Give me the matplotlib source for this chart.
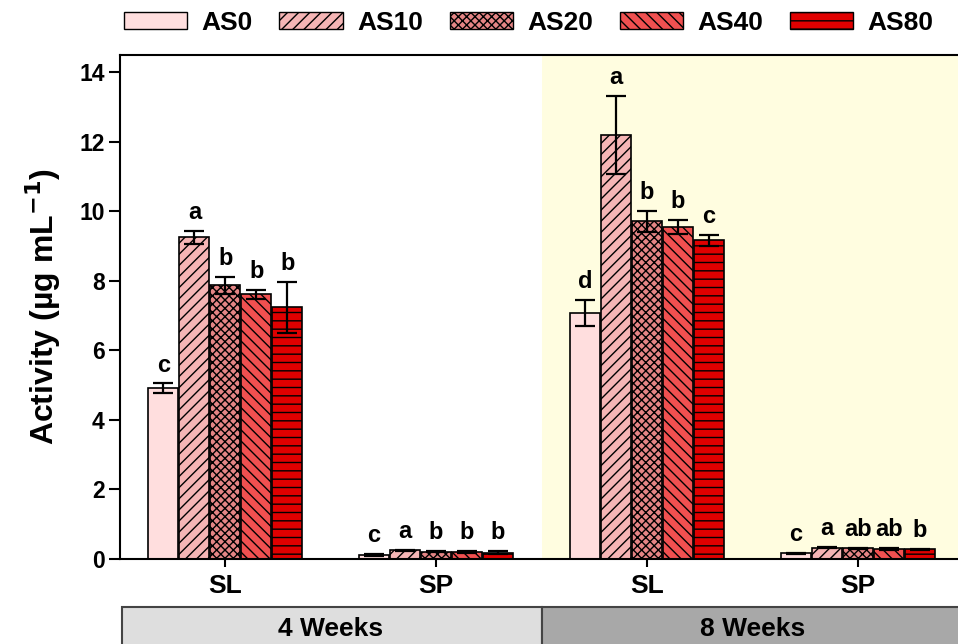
import matplotlib
matplotlib.use("Agg")
import matplotlib.pyplot as plt
from matplotlib.patches import Rectangle, Patch
import numpy as np

plt.rcParams['font.family'] = ['Liberation Sans', 'DejaVu Sans']
plt.rcParams['font.weight'] = 'bold'
plt.rcParams['hatch.linewidth'] = 1.0
plt.rcParams['mathtext.default'] = 'bf'

groups = ["SL", "SP", "SL", "SP"]
periods = ["4 Weeks", "8 Weeks"]
series = ["AS0", "AS10", "AS20", "AS40", "AS80"]

# values per series across the 4 groups (4W SL, 4W SP, 8W SL, 8W SP)
AS0 = [4.91, 0.12, 7.07, 0.16]
AS10 = [9.25, 0.25, 12.21, 0.33]
AS20 = [7.87, 0.21, 9.71, 0.31]
AS40 = [7.61, 0.20, 9.54, 0.29]
AS80 = [7.24, 0.18, 9.17, 0.28]

AS0_err = [0.14, 0.02, 0.37, 0.02]
AS10_err = [0.18, 0.02, 1.12, 0.02]
AS20_err = [0.25, 0.02, 0.30, 0.02]
AS40_err = [0.12, 0.02, 0.20, 0.02]
AS80_err = [0.73, 0.04, 0.16, 0.02]

AS0_let = ["c", "c", "d", "c"]
AS10_let = ["a", "a", "a", "a"]
AS20_let = ["b", "b", "b", "ab"]
AS40_let = ["b", "b", "b", "ab"]
AS80_let = ["b", "b", "c", "b"]

values = [AS0, AS10, AS20, AS40, AS80]
errors = [AS0_err, AS10_err, AS20_err, AS40_err, AS80_err]
letters = [AS0_let, AS10_let, AS20_let, AS40_let, AS80_let]

colors = ["#FFDEDE", "#F5B5B5", "#E58585", "#F05050", "#E00000"]
hatches = [None, "///", "xxxx", "\\\\\\", "--"]

W, H = 958, 644
fig = plt.figure(figsize=(W / 100, H / 100), dpi=100)
left, right_px, top_px, bot_px = 120, 963, 55, 559
ax = fig.add_axes([left / W, 1 - bot_px / H, (right_px - left) / W, (bot_px - top_px) / H])

x = np.arange(len(groups))
bw = 0.142
step = 0.147

ax.axvspan(1.5, 3.6, color="#FFFDE0", zorder=0, lw=0)

for i, s in enumerate(series):
    pos = x + (i - 2) * step
    ax.bar(pos, values[i], width=bw, color=colors[i], edgecolor="black",
           linewidth=1.2, hatch=hatches[i], zorder=2)
    ax.errorbar(pos, values[i], yerr=errors[i], fmt="none", ecolor="black",
                elinewidth=1.6, capsize=7.5, capthick=1.6, zorder=3)
    for j in range(len(groups)):
        ax.text(pos[j], values[i][j] + errors[i][j] + 0.2, letters[i][j],
                ha="center", va="bottom", fontsize=17, fontweight="bold")

ax.set_xlim(-0.5, 3.5)
ax.set_ylim(0, 14.5)
ax.set_yticks(np.arange(0, 15, 2))
ax.set_xticks(x)
ax.set_xticklabels(groups, fontsize=19, fontweight="bold")
ax.tick_params(axis="y", labelsize=16.5, direction="out", length=8, width=1.5, pad=3)
ax.tick_params(axis="x", direction="out", length=6, width=1.5, pad=5)
for sp in ax.spines.values():
    sp.set_linewidth(1.5)
ax.spines["right"].set_visible(False)
ax.set_ylabel("Activity (µg mL$^{-1}$)", fontsize=23, fontweight="bold", labelpad=12)

# period boxes
bax = fig.add_axes([left / W, 0, (right_px - left) / W, (644 - 607) / H])
bax.set_xlim(-0.5, 3.5)
bax.set_ylim(0, 1)
bax.axis("off")
box_cols = ["#DEDEDE", "#A8A8A8"]
for k, p in enumerate(periods):
    x0 = -0.49 if k == 0 else 1.5
    x1 = 1.5 if k == 0 else 3.6
    bax.add_patch(Rectangle((x0, -0.5), x1 - x0, 1.5, facecolor=box_cols[k],
                            edgecolor="#444444", linewidth=1.5, clip_on=False))
    bax.text(0.5 + 2 * k, 0.4, p, ha="center", va="center",
             fontsize=19, fontweight="bold")

handles = [Patch(facecolor=colors[i], edgecolor="black", hatch=hatches[i]) for i in range(5)]
fig.legend(handles, series, loc="upper center", bbox_to_anchor=(0.552, 1.02), ncol=5,
           frameon=False, handlelength=2.4, handleheight=0.6,
           columnspacing=1.0, handletextpad=0.55,
           prop={"weight": "bold", "size": 19})

fig.savefig("out.png", dpi=100)
